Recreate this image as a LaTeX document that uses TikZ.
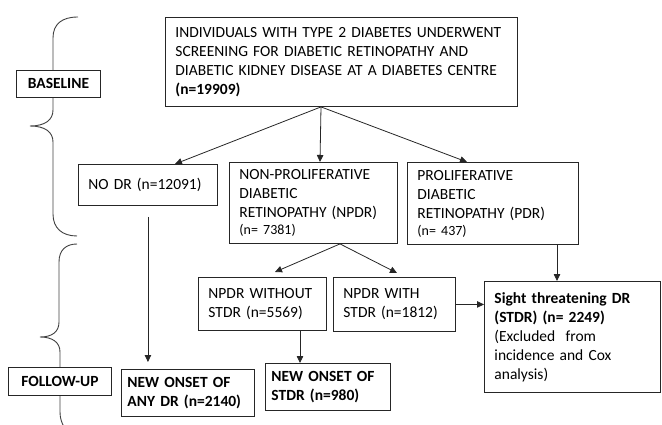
\documentclass[tikz,border=0pt]{standalone}
\usepackage{fontspec}
\setmainfont{Carlito}
\usetikzlibrary{arrows.meta,calc}
\begin{document}
\begin{tikzpicture}[x=1pt,y=-1pt,
  box/.style={draw=black!85, line width=0.9pt, fill=white, anchor=north west,
    align=left, inner xsep=10pt, inner ysep=2pt,
    font=\fontsize{15.5}{19}\selectfont},
  cbox/.style={box, align=center},
  conn/.style={draw=black!85, line width=0.8pt, -{Triangle[length=7pt,width=6.5pt]}},
  bracel/.style={draw=black!75, line width=0.9pt},
]
\useasboundingbox (0,0) rectangle (662,425);

% braces
\draw[bracel] (78,17) .. controls (62,17) and (53,24) .. (53,38) -- (53,110)
  .. controls (53,120) and (45,126) .. (30,126)
  .. controls (45,126) and (53,132) .. (53,142) -- (53,214)
  .. controls (53,228) and (62,236) .. (77,236);
\draw[bracel] (77,244) .. controls (66,244) and (59,250) .. (59,262) -- (59,322)
  .. controls (59,332) and (52,337) .. (40,337)
  .. controls (52,337) and (60,342) .. (60,352) -- (60,412)
  .. controls (60,419) and (62,423) .. (64,427);

% boxes
\node[cbox, minimum width=84, minimum height=27, inner xsep=2pt] (base) at (16,70) {\textbf{BASELINE}};
\node[cbox, minimum width=103, minimum height=28, inner xsep=2pt] (fu) at (8,367) {\textbf{FOLLOW-UP}};
\node[box, minimum width=352, minimum height=89, text width=332] (top) at (165,17)
  {INDIVIDUALS WITH TYPE 2 DIABETES UNDERWENT\\ SCREENING FOR DIABETIC RETINOPATHY AND\\ DIABETIC KIDNEY DISEASE AT A DIABETES CENTRE\\ \textbf{(n=19909)}};
\node[box, minimum width=139, minimum height=41, text width=119] (nodr) at (78,164) {NO DR (n=12091)};
\node[box, minimum width=168, minimum height=81, text width=148, inner xsep=10pt] (npdr) at (229,162)
  {NON-PROLIFERATIVE\\ DIABETIC\\ RETINOPATHY (NPDR)\\[-2pt] {\fontsize{14}{16}\selectfont (n=~7381)}};
\node[box, minimum width=171, minimum height=82, text width=151] (pdr) at (407,162)
  {PROLIFERATIVE\\ DIABETIC\\ RETINOPATHY (PDR)\\[-2pt] {\fontsize{14}{16}\selectfont (n=~437)}};
\node[box, minimum width=128, minimum height=53, text width=108] (nwo) at (198,277) {NPDR WITHOUT\\ STDR (n=5569)};
\node[box, minimum width=122, minimum height=54, text width=102] (nw) at (333,277) {NPDR WITH\\ STDR (n=1812)};
\node[box, minimum width=176, minimum height=111, text width=156] (stdr) at (484,281)
  {\textbf{Sight threatening DR}\\ \textbf{(STDR) (n=~2249)}\\ (Excluded\ \ from\\ incidence and Cox\\ analysis)};
\node[box, minimum width=133, minimum height=47, text width=121, inner xsep=6pt] (onany) at (121,369)
  {\textbf{NEW~ONSET~OF}\\ \textbf{ANY~DR~(n=2140)}};
\node[box, minimum width=125, minimum height=47, text width=113, inner xsep=6pt] (onstdr) at (265,363)
  {\textbf{NEW~ONSET~OF}\\ \textbf{STDR~(n=980)}};

% split points
\coordinate (ts) at ($(top.south west)+(156,0)$);
\coordinate (ns) at ($(npdr.south west)+(111,0)$);
\coordinate (pdrout) at ($(pdr.south west)+(150,0)$);
\coordinate (nwoout) at ($(nwo.south west)+(102,0)$);

% connectors
\draw[conn] (ts) -- ($(nodr.north west)+(97,0)$);
\draw[conn] (ts) -- ($(npdr.north west)+(91,0)$);
\draw[conn] (ts) -- ($(pdr.north west)+(60,0)$);
\draw[conn, shorten <=11pt, shorten >=7pt] (nodr.south) -- (nodr.south |- onany.north);
\draw[conn] (ns) -- ($(nwo.north west)+(77,-5)$);
\draw[conn] (ns) -- ($(nw.north west)+(64,-4)$);
\draw[conn] (pdrout) -- (pdrout |- stdr.north);
\draw[conn] (nw.east) -- (nw.east -| stdr.west);
\draw[conn] (nwoout) -- (nwoout |- onstdr.north);
\end{tikzpicture}
\end{document}
